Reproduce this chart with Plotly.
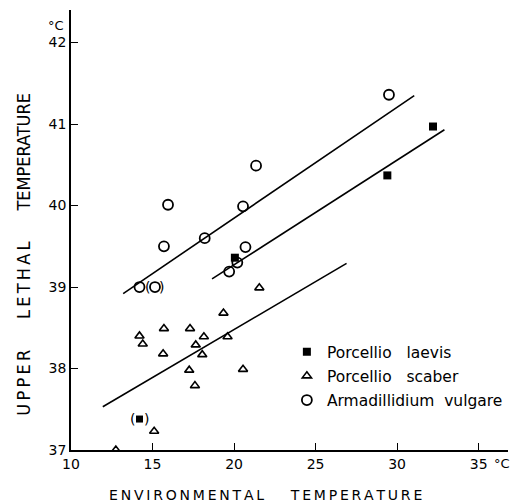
import plotly.graph_objects as go

# --- data ---
laevis_x = [20.05, 29.4, 32.2]
laevis_y = [39.36, 40.37, 40.97]
laevis_paren_x = [14.2]
laevis_paren_y = [37.38]

scaber_x = [12.75, 14.2, 14.4, 15.1, 15.65, 15.7, 17.25, 17.3, 17.6, 17.65, 18.05, 18.15, 19.35, 19.6, 20.55, 21.55]
scaber_y = [37.0, 38.4, 38.3, 37.23, 38.18, 38.49, 37.98, 38.49, 37.79, 38.29, 38.17, 38.39, 38.68, 38.39, 37.99, 38.99]

vulgare_x = [14.2, 15.7, 15.95, 18.2, 19.7, 20.2, 20.55, 20.7, 21.35, 29.5]
vulgare_y = [39.0, 39.5, 40.01, 39.6, 39.19, 39.3, 39.99, 39.49, 40.49, 41.36]
vulgare_paren_x = [15.15]
vulgare_paren_y = [39.0]

# regression lines (end points)
fit_vulgare_x = [13.2, 31.05]
fit_vulgare_y = [38.92, 41.35]
fit_laevis_x = [18.65, 32.9]
fit_laevis_y = [39.1, 40.93]
fit_scaber_x = [11.95, 26.9]
fit_scaber_y = [37.53, 39.29]

x_ticks = [10, 15, 20, 25, 30, 35]
y_ticks = [37, 38, 39, 40, 41, 42]

FONT = "DejaVu Sans"
COND = "DejaVu Sans Condensed, DejaVu Sans"
fig = go.Figure()

line_style = dict(color="black", width=1.6)
for fx, fy in [(fit_vulgare_x, fit_vulgare_y), (fit_laevis_x, fit_laevis_y), (fit_scaber_x, fit_scaber_y)]:
    fig.add_trace(go.Scatter(x=fx, y=fy, mode="lines", line=line_style,
                             showlegend=False, hoverinfo="skip"))

fig.add_trace(go.Scatter(x=laevis_x, y=laevis_y, mode="markers", name="Porcellio   laevis",
                         legendgroup="a",
                         marker=dict(symbol="square", size=8, color="black")))
fig.add_trace(go.Scatter(x=scaber_x, y=scaber_y, mode="markers", name="Porcellio   scaber",
                         legendgroup="b",
                         marker=dict(symbol="triangle-up-open", size=8, color="black",
                                     line=dict(width=1.6))))
fig.add_trace(go.Scatter(x=vulgare_x, y=vulgare_y, mode="markers", name="Armadillidium  vulgare",
                         legendgroup="c",
                         marker=dict(symbol="circle-open", size=10, color="black",
                                     line=dict(width=1.8))))
# parenthesised points
fig.add_trace(go.Scatter(x=laevis_paren_x, y=laevis_paren_y, mode="markers", showlegend=False,
                         marker=dict(symbol="square", size=7, color="black")))
fig.add_trace(go.Scatter(x=vulgare_paren_x, y=vulgare_paren_y, mode="markers", showlegend=False,
                         marker=dict(symbol="circle-open", size=10, color="black",
                                     line=dict(width=1.8))))

annotations = []
for px_, py_ in list(zip(laevis_paren_x, laevis_paren_y)) + list(zip(vulgare_paren_x, vulgare_paren_y)):
    annotations.append(dict(x=px_, y=py_, text="(", showarrow=False, xshift=-7,
                            font=dict(family=FONT, size=14, color="black")))
    annotations.append(dict(x=px_, y=py_, text=")", showarrow=False, xshift=7,
                            font=dict(family=FONT, size=14, color="black")))

# units
annotations.append(dict(x=10, y=42, text="°C", showarrow=False, xshift=-15, yshift=17,
                        font=dict(family=FONT, size=13, color="black")))
annotations.append(dict(x=35, y=37, text="°C", showarrow=False, xanchor="left", xshift=13,
                        yshift=-13, font=dict(family=FONT, size=13, color="black")))

# axis titles
thin = "\u2009"
def spaced(s):
    return thin.join(list(s))

annotations.append(dict(xref="paper", yref="paper", x=-0.1075, y=0.444,
                        xanchor="center", yanchor="middle",
                        text=spaced("UPPER") + "      " + spaced("LETHAL") + "      " + "TEMPERATURE",
                        textangle=-90, showarrow=False,
                        font=dict(family=COND, size=18, color="black")))
annotations.append(dict(xref="paper", yref="paper", x=0.446, y=-0.102,
                        xanchor="center", yanchor="middle",
                        text=spaced("ENVIRONMENTAL") + "      " + spaced("TEMPERATURE"),
                        showarrow=False,
                        font=dict(family=FONT, size=14, color="black")))

fig.update_layout(
    width=513, height=502,
    margin=dict(l=71, r=5, t=10, b=52),
    plot_bgcolor="white", paper_bgcolor="white",
    font=dict(family=FONT, size=13, color="black"),
    xaxis=dict(range=[10, 36.8], tickvals=x_ticks, ticktext=[str(v) for v in x_ticks],
               ticks="inside", ticklen=7, tickwidth=1.3, tickcolor="black",
               showline=True, linecolor="black", linewidth=1.6, showgrid=False, zeroline=False,
               tickfont=dict(family=FONT, size=14)),
    yaxis=dict(range=[37, 42.4], tickvals=y_ticks, ticktext=[str(v) for v in y_ticks],
               ticks="inside", ticklen=7, tickwidth=1.3, tickcolor="black",
               showline=True, linecolor="black", linewidth=1.6, showgrid=False, zeroline=False,
               tickfont=dict(family=FONT, size=14)),
    legend=dict(x=0.494, y=0.261, xanchor="left", yanchor="top",
                bgcolor="rgba(0,0,0,0)", tracegroupgap=1,
                font=dict(family=FONT, size=15.5, color="black")),
    annotations=annotations,
)

fig.write_html("out.html", config={"displayModeBar": False},
               post_script="document.body.style.margin='0';")
